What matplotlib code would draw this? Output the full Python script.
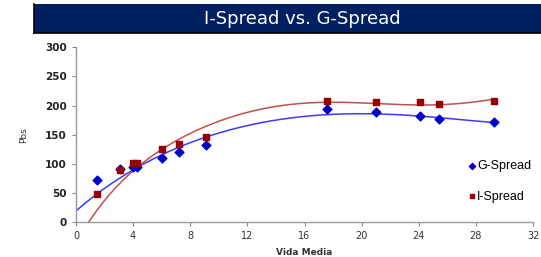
import matplotlib
matplotlib.use('Agg')
import matplotlib.pyplot as plt
import numpy as np
from matplotlib.patches import Rectangle

# Datos
vida_g = [1.45, 3.1, 4.0, 4.3, 6.0, 7.2, 9.1, 17.6, 21.0, 24.1, 25.4, 29.3]
g_spread = [73, 92, 95, 94, 111, 120, 133, 195, 189, 183, 177, 172]

vida_i = [1.45, 3.1, 4.0, 4.3, 6.0, 7.2, 9.1, 17.6, 21.0, 24.1, 25.4, 29.3]
i_spread = [49, 90, 101, 101, 125, 134, 146, 208, 207, 206, 202, 208]

# Lineas de tendencia
tend_g_x = [0, 1.45, 4.0, 6.05, 8.68, 10.08, 11.0, 13.35, 15.69, 17.6, 19.2, 21.0, 24.1, 25.4, 29.3]
tend_g_y = [20, 47, 91, 116, 142, 153, 161, 173, 180, 184, 186, 187, 182, 179, 171]

tend_i_x = [0.86, 1.91, 4.0, 6.05, 7.28, 8.68, 10.08, 11.0, 13.35, 15.69, 17.6, 19.2, 21.0, 23.15, 25.4, 27.35, 29.3]
tend_i_y = [0, 33, 90, 125, 143, 160, 174, 182, 196, 203, 205.5, 206, 204, 201, 201, 205.5, 211]

x_ticks = [0, 4, 8, 12, 16, 20, 24, 28, 32]
y_ticks = [0, 50, 100, 150, 200, 250, 300]

fig = plt.figure(figsize=(5.41, 2.57), dpi=100)

# Barra de titulo
fig.patches.append(Rectangle((34 / 541, 1 - 33 / 257), 1 - 34 / 541, 29 / 257,
                             transform=fig.transFigure, facecolor='#002060',
                             edgecolor='none', zorder=0))
fig.lines.append(plt.Line2D([34 / 541, 34 / 541], [1 - 33 / 257, 1 - 4 / 257],
                            transform=fig.transFigure, color='black', lw=1.2))
fig.lines.append(plt.Line2D([34 / 541, 1], [1 - 33 / 257, 1 - 33 / 257],
                            transform=fig.transFigure, color='black', lw=1.2))
fig.text(0.558, 1 - 18.5 / 257, 'I-Spread vs. G-Spread', color='white',
         fontsize=13, ha='center', va='center', family='DejaVu Sans')

ax = fig.add_axes([76 / 541, 1 - 222.3 / 257, (533 - 76) / 541, (222.3 - 47.3) / 257])

# suavizado de las tendencias
xs = np.linspace(0, 29.3, 300)
coef_g = np.polyfit(tend_g_x, tend_g_y, 5)
coef_i = np.polyfit(tend_i_x, tend_i_y, 6)
ax.plot(xs, np.polyval(coef_g, xs), color='#3a3aff', lw=1.1, zorder=2)
ax.plot(xs, np.polyval(coef_i, xs), color='#c0504d', lw=1.1, zorder=2)

ax.scatter(vida_g, g_spread, marker='D', s=20, color='#0000cc', zorder=3, label='G-Spread')
ax.scatter(vida_i, i_spread, marker='s', s=20, color='#990000', zorder=3, label='I-Spread')

ax.set_xlim(0, 32)
ax.set_ylim(0, 300)
ax.set_xticks(x_ticks)
ax.set_yticks(y_ticks)
ax.tick_params(axis='x', labelsize=7, colors='#888888', labelcolor='#333333', length=3, width=0.8)
ax.tick_params(axis='y', labelsize=7.5, colors='#888888', labelcolor='#222222', length=3, width=0.8)
for lbl in ax.get_yticklabels():
    lbl.set_fontweight('bold')
for s in ['top', 'right']:
    ax.spines[s].set_visible(False)
for s in ['left', 'bottom']:
    ax.spines[s].set_color('#999999')
    ax.spines[s].set_linewidth(1)

ax.set_xlabel('Vida Media', fontsize=6.5, fontweight='bold', color='#333333', labelpad=5)
ax.set_ylabel('Pbs', fontsize=6.5, color='#333333', labelpad=12)

leg = ax.legend(loc='center left', bbox_to_anchor=(0.83, 0.235), frameon=False,
                handletextpad=0.05, labelspacing=1.5, markerscale=0.7,
                handlelength=0.8, prop={'family': 'Liberation Sans', 'size': 9})

plt.savefig('out.png', dpi=100)
plt.close()
